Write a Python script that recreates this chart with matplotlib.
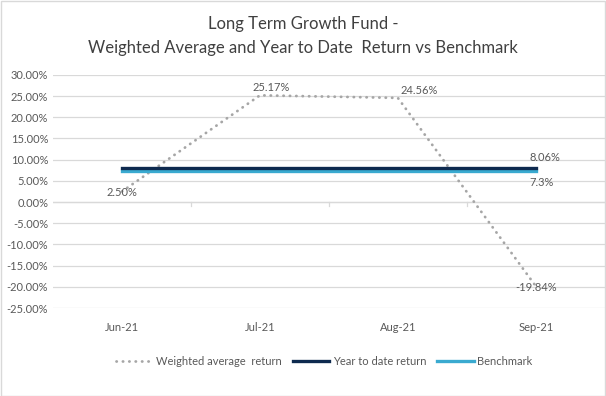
import numpy as np
import matplotlib.pyplot as plt
from matplotlib.ticker import FuncFormatter

plt.rcParams['font.family'] = ['Lato', 'DejaVu Sans']

#============ data ============
months = ["Jun-21", "Jul-21", "Aug-21", "Sep-21"]
weighted_avg = [2.50, 25.17, 24.56, -19.84]   # %
ytd_return = [8.06, 8.06, 8.06, 8.06]
benchmark = [7.3, 7.3, 7.3, 7.3]
yticks = np.arange(-25, 31, 5)

txt_col = "#595959"
grid_col = "#D9D9D9"

fig = plt.figure(figsize=(6.06, 3.96), dpi=100)
ax = fig.add_axes([0.0875, 0.222, 0.9105, 0.589])
x = np.arange(len(months))

ax.plot(x, weighted_avg, color="#A6A6A6", lw=2.0, linestyle=(0, (0.1, 2.2)),
        dash_capstyle="round", label="Weighted average  return", zorder=3)
ax.plot(x, ytd_return, color="#0E2A4F", lw=2.4, label="Year to date return", zorder=4)
ax.plot(x, benchmark, color="#3AAAD0", lw=2.4, label="Benchmark", zorder=3)

# data labels
lbl = dict(textcoords="offset pixels", fontsize=8, color=txt_col)
ax.annotate("2.50%", (0, weighted_avg[0]), xytext=(0, -1), ha="center", va="center", **lbl)
ax.annotate("25.17%", (1, weighted_avg[1]), xytext=(11, 8), ha="center", va="center", **lbl)
ax.annotate("24.56%", (2, weighted_avg[2]), xytext=(3, 7), ha="left", va="center", **lbl)
ax.annotate("-19.84%", (3, weighted_avg[3]), xytext=(0, -1), ha="center", va="center", **lbl)
ax.annotate("8.06%", (3, ytd_return[3]), xytext=(-6, 10), ha="left", va="center", **lbl)
ax.annotate("7.3%", (3, benchmark[3]), xytext=(-6, -11), ha="left", va="center", **lbl)

ax.set_xlim(-0.5, 3.5)
ax.set_ylim(-25, 30)
ax.set_yticks(yticks)
ax.yaxis.set_major_formatter(FuncFormatter(lambda v, p: f"{v:.2f}%"))
ax.set_xticks(x)
ax.set_xticklabels(months)
ax.tick_params(axis="both", length=0, labelsize=8, labelcolor=txt_col)
ax.tick_params(axis="x", pad=10)
ax.grid(axis="y", color=grid_col, lw=0.9)
ax.set_axisbelow(True)
for s in ax.spines.values():
    s.set_visible(False)

# zero axis line with category tick marks
ax.axhline(0, color=grid_col, lw=0.9, zorder=1)
for xb in [0.5, 1.5, 2.5]:
    ax.plot([xb, xb], [0, -0.9], color=grid_col, lw=0.9, zorder=1)

fig.text(0.5, 0.94, "Long Term Growth Fund -", ha="center", va="center",
         fontsize=12, color="#404040")
fig.text(0.5, 0.88, "Weighted Average and Year to Date  Return vs Benchmark", ha="center",
         va="center", fontsize=12, color="#404040")

fig.legend(loc="center", bbox_to_anchor=(0.535, 0.088), ncol=3, frameon=False,
           fontsize=8, labelcolor=txt_col, handlelength=3.3, columnspacing=1.0,
           handletextpad=0.3)

# light border around the chart
fig.patches.append(plt.Rectangle((0.001, 0.001), 0.997, 0.996, transform=fig.transFigure,
                                 fill=False, edgecolor="#D9D9D9", lw=1))

fig.savefig("out.png", dpi=100)
